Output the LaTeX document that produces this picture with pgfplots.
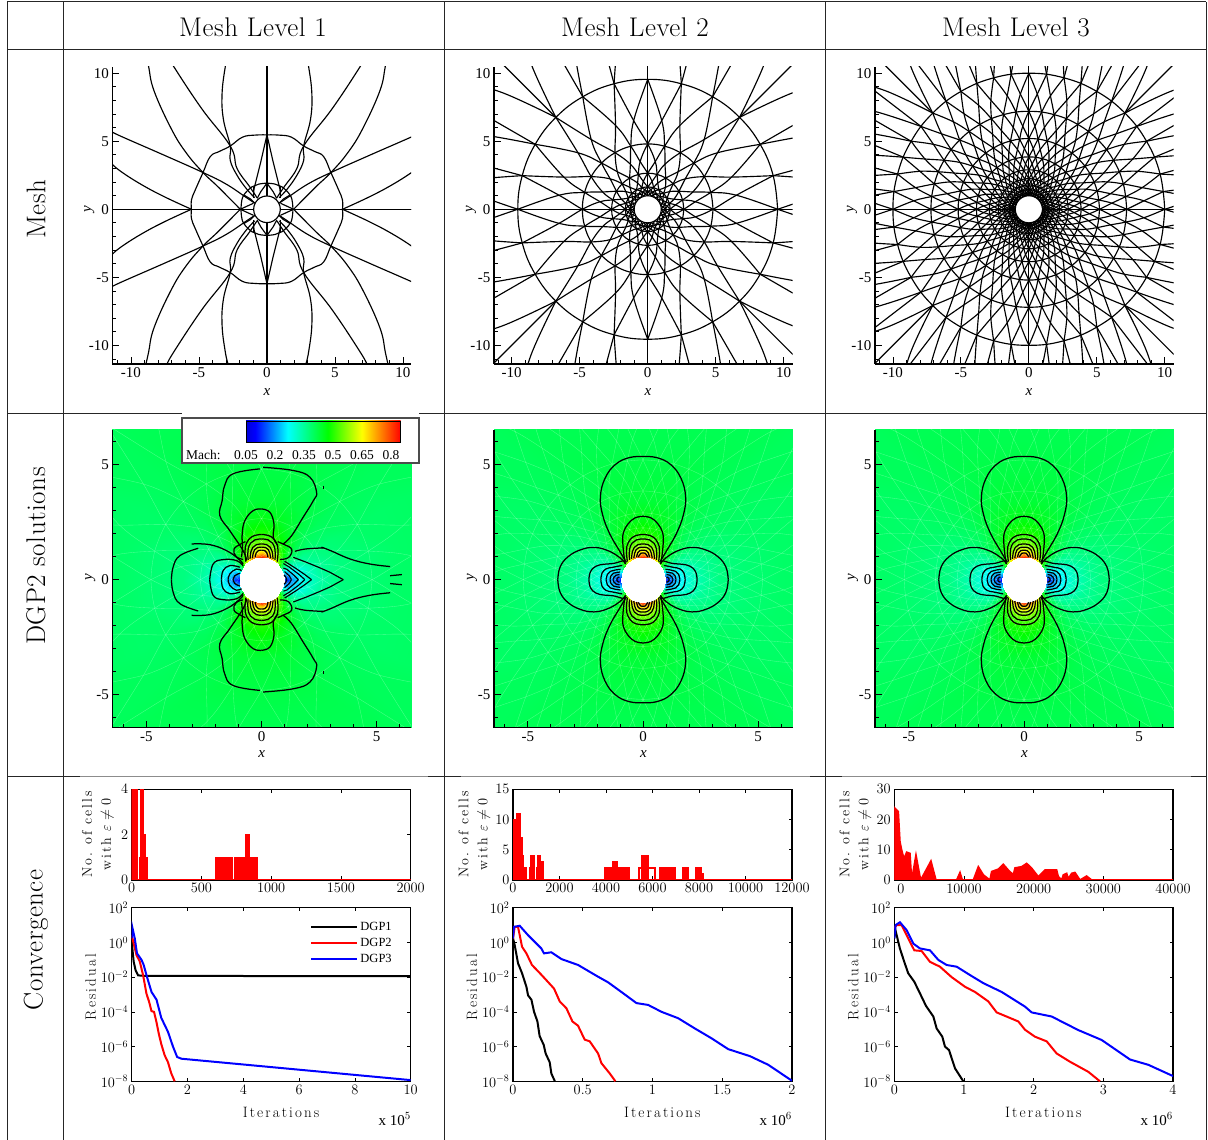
\documentclass[border=0pt]{standalone}
\usepackage{fontspec}
\usepackage{pgfplots}
\usepackage{pgfplotstable}
\pgfplotsset{compat=1.18}
\newfontfamily\tm{Liberation Serif}
\newfontfamily\lsp[LetterSpace=14]{Latin Modern Roman}
\newfontfamily\hd[LetterSpace=2]{Latin Modern Roman}
\newcommand\T[2]{\pgfplotstableread[row sep=\\]{x y\\ #2}#1}
\newcommand\PT[2]{\pgfplotstableread[row sep=\\]{r t\\ #2}#1}
% ---- mesh level 1, first quadrant
\T{\mA}{0 5.47\\ .9 5.45\\ 1.8 5.3\\ 2.7 4.65\\ 3.5 4.25\\ 4.17 3.87\\ 4.7 2.7\\ 5.27 1.42\\ 5.55 .69\\ 5.55 0\\}
\T{\mB}{0 1.92\\ .6 1.85\\ 1.1 1.65\\ 1.7 1.05\\ 1.88 .45\\ 1.9 0\\}
\T{\mC}{1.96 0\\ 2.8 .85\\ 3.7 1.75\\ 4.7 2.7\\ 5.9 4.1\\ 7 5.85\\ 8.3 8.7\\ 8.7 10.5\\ 8.9 11.4\\}
\T{\mD}{.9 .45\\ 1.5 .85\\ 3 1.85\\ 4.7 2.7\\ 7.5 3.95\\ 10.7 5.35\\ 11.4 5.7\\}
\T{\mE}{5.55 0\\ 7.5 .9\\ 9.2 1.8\\ 10.7 2.75\\ 11.4 3.33\\}
\T{\mF}{.9 .85\\ 1.5 1.5\\ 2.2 2.5\\ 2.7 3.6\\ 2.7 4.65\\ 3.2 6.6\\ 3.3 8.5\\ 3.06 10.5\\ 2.85 11.4\\}
\T{\mG}{.73 .85\\ 1.3 1.7\\ 2.2 3\\ 2.7 4.65\\ 4.8 7.4\\ 6.86 10.5\\ 7.35 11.4\\}
\T{\mH}{0 5.47\\ .45 3.5\\ .95 1.5\\ 1 .95\\}
\T{\mI}{0 1.92\\ .45 1.3\\ .72 .8\\}
\T{\mJ}{1.7 1.05\\ 1.2 .75\\ .9 .45\\}
\T{\mK}{1.96 0\\ 1 .44\\}
\T{\mL}{1 1.65\\ 1 .8\\}
\T{\mM}{0 1\\ 0 11.4\\}
\T{\mN}{1 0\\ 11.4 0\\}
% ---- element edges (radius, angle offset) between the rings of levels 2 and 3
\PT{\spTwoA}{9.55 0\\ 6.6 9\\ 4.8 15\\ 3.55 21\\ 2.65 30\\ 2.07 39\\ 1.65 45\\ 1.46 51\\ 1.3 60\\ 1.14 69\\ 1 75\\}
\PT{\spTwoB}{9.55 0\\ 6.6 6\\ 4.8 15\\ 3.55 24\\ 2.65 30\\ 2.07 36\\ 1.65 45\\ 1.46 54\\ 1.3 60\\ 1.14 66\\ 1 75\\}
\PT{\spThreeA}{10 0\\ 8.49 4.2\\ 7.2 7.5\\ 6.12 10.8\\ 5.2 15\\ 4.47 19.2\\ 3.85 22.5\\ 3.34 25.8\\ 2.9 30\\ 2.55 34.2\\ 2.25 37.5\\ 2.01 40.8\\ 1.8 45\\ 1.62 49.2\\ 1.45 52.5\\ 1.32 55.8\\ 1.2 60\\ 1.1 64.2\\ 1 67.5\\}
\PT{\spThreeB}{10 0\\ 8.49 3.3\\ 7.2 7.5\\ 6.12 11.7\\ 5.2 15\\ 4.47 18.3\\ 3.85 22.5\\ 3.34 26.7\\ 2.9 30\\ 2.55 33.3\\ 2.25 37.5\\ 2.01 41.7\\ 1.8 45\\ 1.62 48.3\\ 1.45 52.5\\ 1.32 56.7\\ 1.2 60\\ 1.1 62.7\\ 1 67.5\\}
\PT{\armTwo}{9.55 0\\ 13.5 6\\ 16 9.7\\}
\PT{\armThree}{10 0\\ 13.5 5.2\\ 16 9\\}
\PT{\radTwo}{9.55 0\\ 16 0\\}
\PT{\radThree}{10 0\\ 16 0\\}
\PT{\axr}{1 0\\ 16 0\\}
\PT{\ringt}{1 0\\ 1 15\\ 1 30\\ 1 45\\ 1 60\\ 1 75\\ 1 90\\ 1 105\\ 1 120\\ 1 135\\ 1 150\\ 1 165\\ 1 180\\ 1 195\\ 1 210\\ 1 225\\ 1 240\\ 1 255\\ 1 270\\ 1 285\\ 1 300\\ 1 315\\ 1 330\\ 1 345\\ 1 360\\}
% ---- Mach field, first quadrant
\pgfplotstableread[row sep=\\]{r t m\\
1 0 .05\\ 1 15 .21\\ 1 30 .40\\ 1 45 .57\\ 1 60 .69\\ 1 75 .77\\ 1 90 .82\\
1.15 0 .10\\ 1.15 15 .20\\ 1.15 30 .36\\ 1.15 45 .50\\ 1.15 60 .61\\ 1.15 75 .68\\ 1.15 90 .70\\
1.3 0 .16\\ 1.3 15 .23\\ 1.3 30 .35\\ 1.3 45 .46\\ 1.3 60 .56\\ 1.3 75 .62\\ 1.3 90 .64\\
1.5 0 .22\\ 1.5 15 .26\\ 1.5 30 .35\\ 1.5 45 .44\\ 1.5 60 .51\\ 1.5 75 .56\\ 1.5 90 .58\\
1.75 0 .27\\ 1.75 15 .29\\ 1.75 30 .35\\ 1.75 45 .42\\ 1.75 60 .48\\ 1.75 75 .52\\ 1.75 90 .53\\
2.1 0 .31\\ 2.1 15 .32\\ 2.1 30 .36\\ 2.1 45 .41\\ 2.1 60 .45\\ 2.1 75 .48\\ 2.1 90 .49\\
2.6 0 .34\\ 2.6 15 .35\\ 2.6 30 .37\\ 2.6 45 .40\\ 2.6 60 .43\\ 2.6 75 .45\\ 2.6 90 .46\\
3.4 0 .37\\ 3.4 15 .37\\ 3.4 30 .38\\ 3.4 45 .40\\ 3.4 60 .42\\ 3.4 75 .43\\ 3.4 90 .43\\
4.5 0 .38\\ 4.5 15 .38\\ 4.5 30 .39\\ 4.5 45 .40\\ 4.5 60 .41\\ 4.5 75 .42\\ 4.5 90 .42\\
6 0 .39\\ 6 15 .39\\ 6 30 .39\\ 6 45 .40\\ 6 60 .41\\ 6 75 .41\\ 6 90 .41\\
10 0 .40\\ 10 15 .40\\ 10 30 .40\\ 10 45 .40\\ 10 60 .40\\ 10 75 .40\\ 10 90 .40\\
}\fld
% ---- contour lines, levels 2 and 3 (first quadrant)
\T{\vA}{0 5.35\\ .6 5.3\\ 1.2 5\\ 1.65 4.4\\ 1.85 3.6\\ 1.75 2.8\\ 1.45 2\\ 1.05 1.3\\ .72 .75\\}
\T{\vB}{0 2.75\\ .35 2.68\\ .65 2.42\\ .85 2.05\\ .88 1.7\\ .85 1.25\\ .78 .7\\}
\T{\vC}{0 1.96\\ .3 1.92\\ .55 1.75\\ .7 1.45\\ .72 1.2\\ .68 .78\\}
\T{\vD}{0 1.77\\ .28 1.73\\ .48 1.58\\ .58 1.33\\ .6 1.1\\ .58 .86\\}
\T{\vE}{0 1.55\\ .22 1.52\\ .38 1.4\\ .46 1.22\\ .5 .9\\}
\T{\vF}{0 1.41\\ .18 1.39\\ .3 1.3\\ .36 1.15\\ .4 .93\\}
\T{\vG}{0 1.28\\ .14 1.26\\ .23 1.17\\ .28 .97\\}
\T{\vH}{0 1.16\\ .1 1.14\\ .17 1.05\\ .2 .98\\}
\T{\hA}{3.7 0\\ 3.6 .55\\ 3.25 1\\ 2.7 1.3\\ 2.1 1.4\\ 1.5 1.25\\ 1 .95\\ .75 .68\\}
\T{\hB}{2.35 0\\ 2.28 .35\\ 2.05 .58\\ 1.7 .67\\ 1.3 .7\\ .88 .82\\}
\T{\hC}{1.83 0\\ 1.78 .28\\ 1.6 .47\\ 1.35 .53\\ 1.1 .58\\ .9 .62\\}
\T{\hD}{1.6 0\\ 1.55 .22\\ 1.42 .36\\ 1.2 .42\\ .97 .45\\}
\T{\hE}{1.43 0\\ 1.39 .17\\ 1.28 .28\\ 1.1 .32\\ .99 .33\\}
\T{\hF}{1.29 0\\ 1.26 .11\\ 1.17 .19\\ 1.02 .22\\}
\T{\hG}{1.14 0\\ 1.12 .06\\ 1.02 .12\\}
% ---- contour lines, level 1 (upper half; mirrored in y)
\T{\aA}{.07 4.88\\ 1.38 4.74\\ 2.1 4.45\\ 2.39 3.8\\ 2.25 3.43\\ 1.8 2.7\\ 1.3 1.9\\ .94 1.55\\}
\T{\aB}{-.07 4.81\\ -1.23 4.6\\ -1.6 4.09\\ -1.71 3.43\\ -1.81 2.78\\ -1.38 2.13\\ -.8 1.26\\ -.65 .83\\}
\T{\aC}{0 3.07\\ .36 2.93\\ .54 2.42\\ .51 1.84\\ .72 1.48\\}
\T{\aD}{0 3.07\\ -.36 3\\ -.72 2.57\\ -.84 1.99\\ -.83 1.41\\ -.87 .97\\}
\T{\aE}{2.68 4.08\\ 2.68 3.95\\}
\T{\aF}{.8 .88\\ 1.17 .96\\ 1.31 1.32\\ .95 1.54\\ .7 1.65\\}
\T{\aG}{-.8 .88\\ -1.1 1\\ -1.2 1.32\\ -.9 1.55\\ -.7 1.65\\}
\T{\bA}{-3.91 0\\ -3.84 .54\\ -3.55 1.04\\ -2.75 1.36\\}
\T{\bB}{-3.04 1.55\\ -2.25 1.52\\ -1.52 1.26\\ -1 .9\\ -.8 .68\\}
\T{\bC}{-2.25 0\\ -2.1 .68\\ -1.67 .87\\ -1.09 .83\\ -.8 .6\\}
\T{\bD}{-1.74 0\\ -1.67 .39\\ -1.38 .61\\ -.94 .54\\}
\T{\bE}{-1.45 0\\ -1.38 .25\\ -1.09 .46\\ -.87 .39\\}
\T{\bF}{-1.23 0\\ -1.16 .17\\ -.94 .28\\}
\T{\cA}{1.45 1.23\\ 1.9 1.33\\ 2.7 1.38\\}
\T{\cB}{2.6 1.41\\ 3 1.26\\ 3.84 .9\\ 4.7 .68\\ 5.58 .57\\}
\T{\cC}{5.58 .17\\ 6.09 .22\\}
\T{\cD}{3.55 0\\ 2.97 .32\\ 2.54 .51\\ 1.96 .75\\ 1.38 .97\\}
\T{\cE}{2.17 0\\ 1.88 .22\\ 1.5 .48\\ 1 .8\\}
\T{\cF}{1.88 0\\ 1.6 .25\\ 1.2 .55\\ .95 .7\\}
\T{\cG}{1.6 0\\ 1.4 .2\\ 1.1 .45\\ .95 .5\\}
\T{\cH}{1.3 0\\ 1.2 .17\\ 1 .35\\}
\T{\cI}{1.1 0\\ 1.05 .12\\ .98 .2\\}
% ---- reflection helpers
\newcommand\mirY[2]{%
 \addplot[#2] table[x=x,y=y]{#1};
 \addplot[#2] table[x=x,y expr=-\thisrow{y}]{#1};}
\newcommand\refl[2]{%
 \mirY{#1}{#2}
 \addplot[#2] table[x expr=-\thisrow{x},y=y]{#1};
 \addplot[#2] table[x expr=-\thisrow{x},y expr=-\thisrow{y}]{#1};}
\newcommand\spokes[3]{% table, style, angles
 \pgfplotsinvokeforeach{#3}{%
  \addplot[#2] table[x expr={\thisrow{r}*cos(##1+\thisrow{t})},y expr={\thisrow{r}*sin(##1+\thisrow{t})}]{#1};}}
\newcommand\spokesm[3]{%
 \pgfplotsinvokeforeach{#3}{%
  \addplot[#2] table[x expr={\thisrow{r}*cos(##1-\thisrow{t})},y expr={\thisrow{r}*sin(##1-\thisrow{t})}]{#1};}}
\newcommand\rings[2]{%
 \pgfplotsinvokeforeach{#2}{%
  \addplot[#1] table[x expr={##1*cos(\thisrow{t})},y expr={##1*sin(\thisrow{t})}]{\ringt};}}
\newcommand\machfield{%
 \addplot[surf,shader=interp,mesh/rows=11,mesh/cols=7,point meta=\thisrow{m}] table[x expr={\thisrow{r}*cos(\thisrow{t})},y expr={\thisrow{r}*sin(\thisrow{t})}]{\fld};
 \addplot[surf,shader=interp,mesh/rows=11,mesh/cols=7,point meta=\thisrow{m}] table[x expr={-\thisrow{r}*cos(\thisrow{t})},y expr={\thisrow{r}*sin(\thisrow{t})}]{\fld};
 \addplot[surf,shader=interp,mesh/rows=11,mesh/cols=7,point meta=\thisrow{m}] table[x expr={\thisrow{r}*cos(\thisrow{t})},y expr={-\thisrow{r}*sin(\thisrow{t})}]{\fld};
 \addplot[surf,shader=interp,mesh/rows=11,mesh/cols=7,point meta=\thisrow{m}] table[x expr={-\thisrow{r}*cos(\thisrow{t})},y expr={-\thisrow{r}*sin(\thisrow{t})}]{\fld};}
\newcommand\contoursSym{%
 \refl{\vA}{cl}\refl{\vB}{cl}\refl{\vC}{cl}\refl{\vD}{cl}\refl{\vE}{cl}\refl{\vF}{cl}\refl{\vG}{cl}\refl{\vH}{cl}
 \refl{\hA}{cl}\refl{\hB}{cl}\refl{\hC}{cl}\refl{\hD}{cl}\refl{\hE}{cl}\refl{\hF}{cl}\refl{\hG}{cl}}
\tikzset{
 ml/.style={black,line width=1.15pt,smooth,tension=.7},
 ms/.style={black,line width=1.15pt},
 cl/.style={black,line width=1.25pt,smooth,tension=.7},
 fl/.style={white,opacity=.3,line width=.35pt,smooth},
 cone/.style={black,line width=2pt},
 ctwo/.style={red,line width=2pt},
 cthr/.style={blue,line width=2pt},
 redbar/.style={red,fill=red,line width=1.4pt,const plot},
}
\pgfplotsset{
 frameax/.style={scale only axis,width=298.7pt,
  axis x line=bottom,axis y line=left,axis line style={-,line width=1.2pt,black},
  tick align=inside,major tick length=7pt,minor tick length=3.5pt,
  tick style={black,line width=.8pt},
  tick label style={font=\tm\fontsize{15}{17}\selectfont},
  label style={font=\fontsize{15}{17}\selectfont},
  xlabel={\tm\itshape x},ylabel={\tm\itshape y}},
 meshax/.style={frameax,height=297.3pt,ymin=-11.37,ymax=10.48,
  xtick={-10,-5,0,5,10},xticklabels={-10,-5,0,5,10},
  ytick={-10,-5,0,5,10},yticklabels={-10,-5,0,5,10},
  minor xtick={-11,...,10},minor ytick={-11,...,10},
  xlabel style={at={(axis description cs:#1,0)},yshift=-28pt,anchor=center},
  ylabel style={at={(axis description cs:0,.52)},yshift=23pt,anchor=center}},
 solax/.style={frameax,height=297.7pt,axis on top,ymin=-6.43,ymax=6.5,
  xtick={-5,0,5},xticklabels={-5,0,5},ytick={-5,0,5},yticklabels={-5,0,5},
  minor xtick={-6,...,6},minor ytick={-6,...,6},
  colormap={mach}{rgb255(0cm)=(0,0,255);rgb255(2.7cm)=(0,255,255);rgb255(5.3cm)=(0,255,0);rgb255(7.5cm)=(255,255,0);rgb255(10cm)=(255,0,0)},
  point meta min=.05,point meta max=.85,
  xlabel style={at={(axis description cs:.5,0)},yshift=-26.5pt,anchor=center},
  ylabel style={at={(axis description cs:0,.505)},yshift=22pt,anchor=center}},
 convax/.style={scale only axis,axis line style={line width=1.2pt,black},
  tick align=inside,major tick length=3.5pt,tick style={black,line width=.7pt},
  tick label style={font=\fontsize{14.4}{16}\selectfont,black},
  /pgf/number format/1000 sep={},
  scaled x ticks=false,scaled y ticks=false},
 topax/.style={convax,height=90.7pt,ymin=0,
  ylabel={No. of cells\\with $\varepsilon\neq 0$},
  ylabel style={font=\lsp\fontsize{14}{19}\selectfont,align=center,black,at={(axis description cs:0,.5)},yshift=#1,anchor=center}},
 botax/.style={convax,height=173.6pt,ymin=1e-8,ymax=1e2,
  ytick={1e-8,1e-6,1e-4,1e-2,1,1e2},
  xlabel={Iterations},ylabel={Residual},
  xlabel style={font=\lsp\fontsize{15}{17}\selectfont,black,at={(axis description cs:.535,0)},yshift=-31pt,anchor=center},
  ylabel style={font=\lsp\fontsize{15}{17}\selectfont,black,at={(axis description cs:0,.543)},yshift=41pt,anchor=center}},
}
\pgfdeclarehorizontalshading{machbar}{100bp}{color(0bp)=(blue!85!black);color(25bp)=(blue!85!black);color(28bp)=(blue);color(38.5bp)=(cyan);color(51.5bp)=(green);color(62.5bp)=(yellow);color(75bp)=(red);color(100bp)=(red)}
\begin{document}
\begin{tikzpicture}
\useasboundingbox (0pt,0pt) rectangle (1208pt,1140pt);
% ===================== Mesh row
\begin{axis}[meshax=.518,at={(112.3pt,776pt)},anchor=south west,xmin=-11.37,xmax=10.59]
 \refl{\mA}{ml}\refl{\mB}{ml}\refl{\mC}{ml}\refl{\mD}{ml}\refl{\mE}{ml}\refl{\mF}{ml}\refl{\mG}{ml}
 \refl{\mH}{ms}\refl{\mI}{ms}\refl{\mJ}{ms}\refl{\mK}{ms}\refl{\mL}{ms}\refl{\mM}{ms}\refl{\mN}{ms}
 \rings{ml}{.98}
\end{axis}
\begin{axis}[meshax=.515,at={(494pt,776pt)},anchor=south west,xmin=-11.3,xmax=10.66]
 \rings{ml}{1,1.3,1.65,2.65,4.8,9.55}
 \spokes{\spTwoA}{ml}{0,30,...,330}
 \spokesm{\spTwoA}{ml}{0,30,...,330}
 \spokes{\spTwoB}{ml}{15,45,...,345}
 \spokesm{\spTwoB}{ml}{15,45,...,345}
 \spokes{\radTwo}{ms}{15,30,45,60,75,105,120,135,150,165,195,210,225,240,255,285,300,315,330,345}
 \spokes{\axr}{ms}{0,90,180,270}
 \spokes{\armTwo}{ml}{45,60,75,225,240,255,135,150,165,315,330,345,0,180}
 \spokesm{\armTwo}{ml}{15,30,45,195,210,225,105,120,135,285,300,315,0,180}
\end{axis}
\begin{axis}[meshax=.515,at={(875pt,776pt)},anchor=south west,xmin=-11.32,xmax=10.66]
 \rings{ml}{1,1.2,1.45,1.8,2.25,2.9,3.85,5.2,7.2,10}
 \spokes{\spThreeA}{ml}{0,15,...,345}
 \spokesm{\spThreeA}{ml}{0,15,...,345}
 \spokes{\spThreeB}{ml}{7.5,22.5,...,352.5}
 \spokesm{\spThreeB}{ml}{7.5,22.5,...,352.5}
 \spokes{\radThree}{ms}{7.5,15,...,352.5}
 \spokes{\axr}{ms}{0,90,180,270}
 \spokes{\armThree}{ml}{45,52.5,60,67.5,75,82.5,225,232.5,240,247.5,255,262.5,135,142.5,150,157.5,165,172.5,315,322.5,330,337.5,345,352.5,0,180}
 \spokesm{\armThree}{ml}{7.5,15,22.5,30,37.5,45,187.5,195,202.5,210,217.5,225,97.5,105,112.5,120,127.5,135,277.5,285,292.5,300,307.5,315,0,180}
\end{axis}
% ===================== Solution row
\begin{axis}[solax,at={(112.3pt,412.3pt)},anchor=south west,xmin=-6.48,xmax=6.49]
 \machfield
 \spokes{\spTwoA}{fl}{0,30,...,330}
 \spokesm{\spTwoA}{fl}{0,30,...,330}
 \spokes{\spTwoB}{fl}{15,45,...,345}
 \spokesm{\spTwoB}{fl}{15,45,...,345}
 \spokes{\radTwo}{fl}{0,15,...,345}
 \rings{fl}{1.3,1.65,2.65,4.8}
 \mirY{\aA}{cl}\mirY{\aB}{cl}\mirY{\aC}{cl}\mirY{\aD}{cl}\mirY{\aE}{cl}\mirY{\aF}{cl}\mirY{\aG}{cl}
 \mirY{\bA}{cl}\mirY{\bB}{cl}\mirY{\bC}{cl}\mirY{\bD}{cl}\mirY{\bE}{cl}\mirY{\bF}{cl}
 \mirY{\cA}{cl}\mirY{\cB}{cl}\mirY{\cC}{cl}\mirY{\cD}{ms}\mirY{\cE}{ms}\mirY{\cF}{ms}\mirY{\cG}{ms}\mirY{\cH}{ms}\mirY{\cI}{ms}
 \refl{\vC}{cl}\refl{\vD}{cl}\refl{\vE}{cl}\refl{\vF}{cl}\refl{\vG}{cl}
\end{axis}
\begin{axis}[solax,at={(494pt,412.3pt)},anchor=south west,xmin=-6.47,xmax=6.5]
 \machfield
 \spokes{\spThreeA}{fl}{0,15,...,345}
 \spokesm{\spThreeA}{fl}{0,15,...,345}
 \spokes{\spThreeB}{fl}{7.5,22.5,...,352.5}
 \spokesm{\spThreeB}{fl}{7.5,22.5,...,352.5}
 \rings{fl}{1.45,1.8,2.25,2.9,3.85,5.2}
 \contoursSym
\end{axis}
\begin{axis}[solax,at={(875pt,412.3pt)},anchor=south west,xmin=-6.47,xmax=6.5]
 \machfield
 \spokes{\spThreeA}{fl}{0,15,...,345}
 \spokesm{\spThreeA}{fl}{0,15,...,345}
 \spokes{\spThreeB}{fl}{7.5,22.5,...,352.5}
 \spokesm{\spThreeB}{fl}{7.5,22.5,...,352.5}
 \rings{fl}{1.45,1.8,2.25,2.9,3.85,5.2}
 \contoursSym
\end{axis}
% colour legend of the first solution plot
\fill[white] (182pt,677pt) rectangle (419pt,722pt);
\draw[black!70,line width=1.1pt] (182pt,677pt) rectangle (419pt,722pt);
\shade[shading=machbar] (246pt,697.5pt) rectangle (400.6pt,719pt);
\draw[black,line width=.8pt] (246pt,697.5pt) rectangle (400.6pt,719pt);
\node[font=\tm\fontsize{13.5}{15}\selectfont,anchor=west,inner sep=0pt] at (186pt,685pt) {Mach:};
\foreach \xx/\lb in {246/0.05,275/0.2,304/0.35,333/0.5,362/0.65,391/0.8}
 \node[font=\tm\fontsize{13.5}{15}\selectfont] at (\xx pt,685pt) {\lb};
% ===================== Convergence row: cell counts
\begin{axis}[topax=33.8pt,at={(131.7pt,260pt)},anchor=south west,width=279pt,xmin=0,xmax=2000,ymax=4,
  xtick={0,500,1000,1500,2000},ytick={0,2,4}]
 \addplot[redbar] table[row sep=\\]{x y\\ 0 0\\ 0 4\\ 5 0\\ 10 4\\ 28 3\\ 34 4\\ 42 0\\ 58 1\\ 62 4\\ 82 2\\ 100 1\\ 112 0\\ 600 1\\ 720 0\\ 740 1\\ 820 2\\ 840 1\\ 858 0\\ 862 1\\ 900 0\\ 2000 0\\};
\end{axis}
\begin{axis}[topax=38.6pt,at={(513pt,260pt)},anchor=south west,width=279pt,xmin=0,xmax=12000,ymax=15,
  xtick={0,2000,...,12000},ytick={0,5,10,15}]
 \addplot[redbar] table[row sep=\\]{x y\\ 0 0\\ 0 10\\ 160 11\\ 300 7\\ 400 4\\ 460 2\\ 560 0\\ 730 2\\ 780 4\\ 903 0\\ 1018 2\\ 1060 4\\ 1180 3\\ 1290 0\\ 3930 2\\ 4300 3\\ 4500 2\\ 4800 1\\ 4830 2\\ 5000 0\\ 5540 4\\ 5800 0\\ 6330 2\\ 7000 0\\ 7290 2\\ 7550 0\\ 7870 2\\ 8100 1\\ 8200 0\\ 12000 0\\};
 \addplot[red,line width=1.8pt] table[row sep=\\]{x y\\ 5430 0\\ 5430 2\\ 6100 2\\ 6100 0\\};
\end{axis}
\begin{axis}[topax=39pt,at={(894.3pt,260pt)},anchor=south west,width=278.7pt,xmin=0,xmax=40000,ymax=30,
  xtick={0,10000,20000,30000,40000},xticklabels={\hspace*{13pt}0,10000,20000,30000,40000},ytick={0,10,20,30}]
 \addplot[red,fill=red,line width=1.6pt] table[row sep=\\]{x y\\ 0 0\\ 0 24\\ 400 23\\ 574 22.6\\ 813 12.7\\ 1050 10\\ 1390 7\\ 1770 9.2\\ 2250 8.8\\ 2490 0\\ 3110 8.3\\ 3780 0\\ 5260 6.3\\ 5980 0\\ 8950 0\\ 9430 2.5\\ 9760 0\\ 11340 0\\ 12060 4.4\\ 12780 1.7\\ 13730 0\\ 13970 2.8\\ 14930 3.6\\ 15650 5.2\\ 16360 3.3\\ 17080 1.7\\ 17320 4\\ 18280 4.4\\ 19000 5.5\\ 19720 3.9\\ 20670 1.1\\ 21150 2.2\\ 21630 3.3\\ 23300 3.3\\ 23540 1.1\\ 24020 0\\ 24260 1.7\\ 24740 2.2\\ 24980 .5\\ 25460 2.2\\ 25930 2.5\\ 26650 0\\ 27600 1.3\\ 28330 0\\ 40000 0\\} \closedcycle;
\end{axis}
% ===================== Convergence row: residuals
\begin{axis}[ymode=log,botax,at={(131.7pt,58.7pt)},anchor=south west,width=279pt,xmin=0,xmax=10,clip=true,
  xtick={0,2,4,6,8,10},
  legend style={draw=none,fill=none,at={(.64,.93)},anchor=north west,font=\tm\fontsize{12.5}{14}\selectfont,row sep=2.2pt,inner sep=0pt},
  legend cell align=left,
  legend image code/.code={\draw[#1] (0pt,0pt)--(46pt,0pt);}]
 \addplot[cone] table[row sep=\\]{x y\\ 0 2.6\\ .024 .45\\ .07 .079\\ .14 .025\\ .23 .0126\\ .53 .0117\\ 10 .0115\\};
 \addplot[ctwo] table[row sep=\\]{x y\\ 0 2.6\\ .17 .19\\ .29 .079\\ .41 .0126\\ .53 1.1e-3\\ .62 4e-4\\ .71 1.1e-4\\ .8 1e-4\\ .89 2.5e-5\\ .97 5.6e-6\\ 1.06 1.4e-6\\ 1.18 3.2e-7\\ 1.3 1.26e-7\\ 1.42 2.8e-8\\ 1.54 1e-8\\};
 \addplot[cthr] table[row sep=\\]{x y\\ 0 1.7\\ .024 7.1\\ .11 1.7\\ .19 .234\\ .35 .1\\ .43 .05\\ .55 .01\\ .71 1.4e-3\\ .89 5e-4\\ 1.06 4.5e-5\\ 1.3 7.1e-6\\ 1.48 1e-6\\ 1.63 2.5e-7\\ 1.78 2e-7\\ 10 1.17e-8\\};
 \legend{DGP1,DGP2,DGP3}
\end{axis}
\begin{axis}[ymode=log,botax,at={(513pt,58.7pt)},anchor=south west,width=279pt,xmin=0,xmax=2,
  xtick={0,.5,1,1.5,2},xticklabels={0,0.5,1,1.5,2}]
 \addplot[cone] table[row sep=\\]{x y\\ 0 1.74\\ .012 .71\\ .036 .063\\ .065 .0166\\ .096 2.8e-3\\ .108 8.9e-4\\ .132 5e-4\\ .151 1e-4\\ .175 2.8e-5\\ .191 4e-6\\ .22 1.26e-6\\ .234 4e-7\\ .263 1.26e-7\\ .275 2.8e-8\\ .3 1e-8\\};
 \addplot[ctwo] table[row sep=\\]{x y\\ 0 1.7\\ .012 7.9\\ .036 7.9\\ .065 .56\\ .096 .234\\ .136 .05\\ .19 .0178\\ .227 8.5e-3\\ .294 2.2e-3\\ .335 4e-4\\ .383 1.6e-4\\ .426 2.8e-5\\ .466 1.6e-5\\ .514 2.5e-6\\ .55 2e-6\\ .61 4e-7\\ .634 1.1e-7\\ .694 2.8e-8\\ .734 1e-8\\};
 \addplot[cthr] table[row sep=\\]{x y\\ 0 1.7\\ .007 7.9\\ .048 9.1\\ .108 2.6\\ .203 .45\\ .222 .234\\ .275 .27\\ .347 .11\\ .467 .05\\ .598 .012\\ .682 5e-3\\ .79 1.17e-3\\ .885 3.2e-4\\ .969 2.5e-4\\ 1.065 1e-4\\ 1.184 4.3e-5\\ 1.304 1.1e-5\\ 1.423 3e-6\\ 1.543 7.1e-7\\ 1.699 2.8e-7\\ 1.83 8.9e-8\\ 2 1.07e-8\\};
\end{axis}
\begin{axis}[ymode=log,botax,at={(894.3pt,58.7pt)},anchor=south west,width=278.7pt,xmin=0,xmax=4,
  xtick={0,1,2,3,4}]
 \addplot[cone] table[row sep=\\]{x y\\ 0 1.7\\ .01 6.5\\ .08 .45\\ .15 .063\\ .2 .0166\\ .287 5.4e-3\\ .368 1.17e-3\\ .455 2.2e-4\\ .56 5.4e-5\\ .608 1.1e-5\\ .689 3.7e-6\\ .727 1e-6\\ .785 6.3e-7\\ .871 5.6e-8\\ .99 1e-8\\};
 \addplot[ctwo] table[row sep=\\]{x y\\ 0 6.5\\ .033 10\\ .105 10\\ .2 1.7\\ .287 .35\\ .392 .32\\ .512 .076\\ .655 .04\\ .823 .01\\ 1.014 2.8e-3\\ 1.158 1.4e-3\\ 1.349 4e-4\\ 1.469 9.3e-5\\ 1.78 2.8e-5\\ 1.876 9.3e-6\\ 2.019 3.7e-6\\ 2.187 2e-6\\ 2.33 4e-7\\ 2.52 1.35e-7\\ 2.785 3.5e-8\\ 2.952 1e-8\\};
 \addplot[cthr] table[row sep=\\]{x y\\ 0 1.7\\ .019 10\\ .081 14.5\\ .177 5.1\\ .273 .85\\ .368 .45\\ .512 .35\\ .632 .098\\ .751 .05\\ .895 .04\\ 1.086 .0132\\ 1.278 4.5e-3\\ 1.541 1.4e-3\\ 1.876 2e-4\\ 1.971 9.3e-5\\ 2.258 5.4e-5\\ 2.641 8.9e-6\\ 2.976 2.4e-6\\ 3.383 1.8e-7\\ 3.646 8.9e-8\\ 4 2e-8\\};
\end{axis}
% multipliers
\node[font=\tm\fontsize{15}{17}\selectfont,black,anchor=east,inner sep=0pt] at (411pt,21pt) {x 10$^{5}$};
\node[font=\tm\fontsize{15}{17}\selectfont,black,anchor=east,inner sep=0pt] at (792pt,21pt) {x 10$^{6}$};
\node[font=\tm\fontsize{15}{17}\selectfont,black,anchor=east,inner sep=0pt] at (1173pt,21pt) {x 10$^{6}$};
% ===================== Table rules and headings
\begin{scope}[line width=1pt,black!85]
 \draw (7pt,1138pt) -- (1206pt,1138pt);
 \draw (7pt,1090pt) -- (1206pt,1090pt);
 \draw (7pt,726pt) -- (182pt,726pt) (419pt,726pt) -- (1206pt,726pt);
 \draw (7pt,363pt) -- (80pt,363pt) (428pt,363pt) -- (461pt,363pt) (810pt,363pt) -- (842pt,363pt) (1191pt,363pt) -- (1206pt,363pt);
 \draw[black!45] (80pt,363pt) -- (428pt,363pt) (461pt,363pt) -- (810pt,363pt) (842pt,363pt) -- (1191pt,363pt);
 \foreach \xx in {7,63,444,825,1206} \draw (\xx pt,1138pt) -- (\xx pt,0pt);
\end{scope}
\node[font=\hd\fontsize{27}{30}\selectfont] at (253pt,1113pt) {Mesh Level 1};
\node[font=\hd\fontsize{27}{30}\selectfont] at (635pt,1113pt) {Mesh Level 2};
\node[font=\hd\fontsize{27}{30}\selectfont] at (1016pt,1113pt) {Mesh Level 3};
\node[font=\hd\fontsize{27}{30}\selectfont,rotate=90] at (36pt,931pt) {Mesh};
\node[font=\hd\fontsize{27}{30}\selectfont,rotate=90] at (36pt,584pt) {DGP2 solutions};
\node[font=\hd\fontsize{27}{30}\selectfont,rotate=90] at (36pt,200pt) {Convergence};
\end{tikzpicture}
\end{document}
